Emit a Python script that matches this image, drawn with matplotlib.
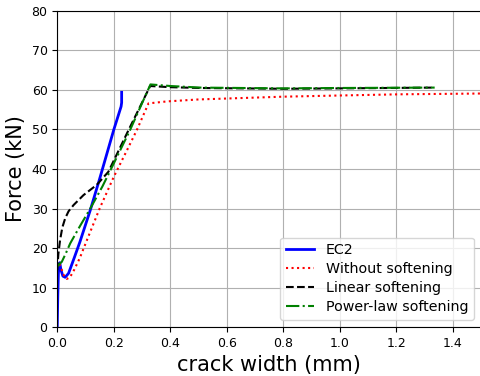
import numpy as np
import matplotlib
matplotlib.use('Agg')
import matplotlib.pyplot as plt

# EC2 curve
ec2_w = [0.0, 0.002, 0.004, 0.006, 0.009, 0.013, 0.02, 0.028, 0.04, 0.06, 0.08, 0.117, 0.15, 0.2, 0.226, 0.228, 0.228]
ec2_f = [0.0, 8.0, 13.5, 15.8, 16.3, 14.5, 12.9, 12.6, 13.6, 17.5, 21.5, 29.6, 37.5, 49.9, 55.8, 56.8, 59.4]

# without softening
nosoft_w = [0.008, 0.016, 0.025, 0.034, 0.045, 0.06, 0.08, 0.105, 0.15, 0.2, 0.25, 0.282, 0.323, 0.388, 0.5, 0.8, 1.0, 1.213, 1.5]
nosoft_f = [16.0, 14.5, 12.8, 12.2, 12.6, 14.5, 17.5, 22.0, 30.0, 38.0, 45.2, 49.9, 56.6, 57.1, 57.6, 58.3, 58.6, 58.9, 59.1]

# linear softening
linear_w = [0.0, 0.004, 0.01, 0.018, 0.028, 0.04, 0.058, 0.093, 0.14, 0.181, 0.25, 0.329, 0.4, 0.505, 0.8, 1.0, 1.336]
linear_f = [14.4, 18.5, 22.0, 25.2, 27.5, 29.3, 30.9, 33.4, 36.0, 39.3, 49.5, 61.0, 60.7, 60.5, 60.3, 60.4, 60.6]

# power-law softening
power_w = [0.0, 0.008, 0.016, 0.03, 0.046, 0.08, 0.117, 0.16, 0.2, 0.258, 0.33, 0.4, 0.505, 0.8, 1.0, 1.336]
power_f = [15.3, 16.0, 16.5, 18.6, 21.2, 25.5, 30.0, 35.6, 41.4, 49.9, 61.4, 61.0, 60.6, 60.4, 60.5, 60.6]


def main():
    fig = plt.figure(figsize=(4.81, 3.76), dpi=100)
    ax = fig.add_axes([0.119, 0.130, 0.881, 0.841])

    ax.plot(ec2_w, ec2_f, color='blue', lw=2.0, label='EC2')
    ax.plot(nosoft_w, nosoft_f, color='red', ls=':', lw=1.5, label='Without softening')
    ax.plot(linear_w, linear_f, color='black', ls='--', lw=1.5, label='Linear softening')
    ax.plot(power_w, power_f, color='green', ls='-.', lw=1.5, label='Power-law softening')

    ax.set_xlim(0, 1.5)
    ax.set_ylim(0, 80)
    ax.set_xticks(np.arange(0, 1.41, 0.2))
    ax.set_yticks(np.arange(0, 81, 10))
    ax.tick_params(labelsize=9)
    ax.grid(True, color='#b0b0b0', lw=0.8)
    ax.set_xlabel('crack width (mm)', fontsize=15)
    ax.set_ylabel('Force (kN)', fontsize=15)
    ax.legend(loc='lower right', fontsize=10.3, labelspacing=0.35)

    fig.savefig('out.png', dpi=100)


if __name__ == '__main__':
    main()
